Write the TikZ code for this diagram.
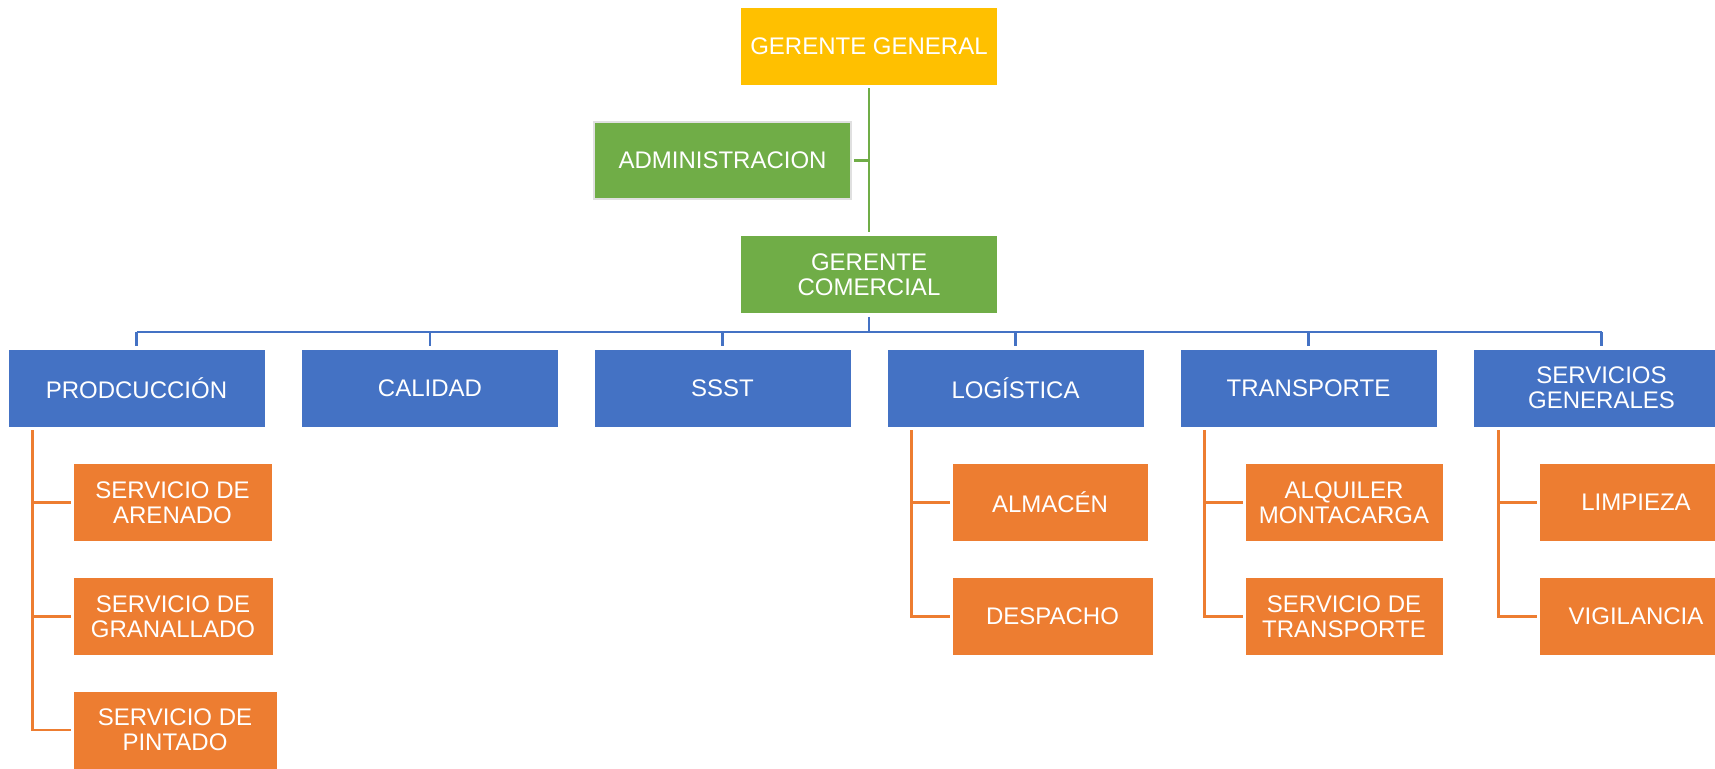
\documentclass[tikz,border=0pt]{standalone}
\usepackage{fontspec}
\setmainfont{Liberation Sans}
\definecolor{cyellow}{HTML}{FFC000}
\definecolor{cgreen}{HTML}{70AD47}
\definecolor{cblue}{HTML}{4472C4}
\definecolor{corange}{HTML}{ED7D31}
\begin{document}
\begin{tikzpicture}[x=1pt,y=-1pt,
  box/.style={rectangle, inner sep=0pt, text=white, align=center,
    font=\fontsize{24}{25}\selectfont, draw=white, line width=0.8pt},
  ybox/.style={box, fill=cyellow, minimum width=257pt, minimum height=78pt},
  gbox/.style={box, fill=cgreen, minimum width=257pt, minimum height=78pt},
  abox/.style={box, fill=cgreen, draw=black!12, line width=2.5pt, minimum width=257pt, minimum height=77pt},
  bbox/.style={box, fill=cblue, minimum width=257pt, minimum height=78pt},
  obox/.style={box, fill=corange, minimum height=78pt},
  gline/.style={draw=cgreen, line width=2.5pt},
  bline/.style={draw=cblue, line width=2.5pt},
  oline/.style={draw=corange, line width=2.5pt}]
\useasboundingbox (0,0) rectangle (1715,768);
\clip (0,0) rectangle (1715,768);

% top
\node[ybox] (gg) at (869,46) {GERENTE GENERAL};
\node[abox] (admin) at (722.5,160.5) {ADMINISTRACION};
\node[gbox] (gc) at (869,274.5) {GERENTE\\COMERCIAL};

% second level
\node[bbox] (prod) at (136.5,388) {PRODCUCCIÓN};
\node[bbox] (cal)  at (430,388) {CALIDAD};
\node[bbox] (ssst) at (722.5,388) {SSST};
\node[bbox] (log)  at (1015.5,388) {LOGÍSTICA};
\node[bbox] (tra)  at (1308.5,388) {TRANSPORTE};
\node[bbox] (serv) at (1601.5,388) {SERVICIOS\\GENERALES};

% third level
\node[obox, minimum width=199pt] (are) at (172.5,502.5) {SERVICIO DE\\ARENADO};
\node[obox, minimum width=200pt] (gra) at (173,616.5) {SERVICIO DE\\GRANALLADO};
\node[obox, minimum width=204pt] (pin) at (175,730) {SERVICIO DE\\PINTADO};
\node[obox, minimum width=196pt] (alm) at (1050,502.5) {ALMACÉN};
\node[obox, minimum width=201pt] (des) at (1052.5,616.5) {DESPACHO};
\node[obox, minimum width=198pt] (alq) at (1344,502.5) {ALQUILER\\MONTACARGA};
\node[obox, minimum width=198pt] (stra) at (1344,616.5) {SERVICIO DE\\TRANSPORTE};
\node[obox, minimum width=194pt] (lim) at (1636,502.5) {LIMPIEZA};
\node[obox, minimum width=194pt] (vig) at (1636,616.5) {VIGILANCIA};

% green connectors
\draw[gline] ([yshift=-3pt]gg.south) -- ([yshift=3pt]gc.north);
\draw[gline] ([xshift=2pt]admin.east) -- (admin.east -| gg.south);

% blue connectors
\coordinate (bus) at (869,332);
\draw[bline] ([yshift=-3pt]gc.south) -- (bus);
\draw[bline] (bus -| prod.north) -- (bus -| serv.north);
\foreach \n in {prod,cal,ssst,log,tra,serv}{
  \draw[bline] (bus -| \n.north) -- ([yshift=3pt]\n.north);
}

% orange connectors
\draw[oline] ([xshift=25pt,yshift=-3pt]prod.south west) |- ([xshift=-2pt]are.west);
\draw[oline] ([xshift=25pt,yshift=-3pt]prod.south west) |- ([xshift=-2pt]gra.west);
\draw[oline] ([xshift=25pt,yshift=-3pt]prod.south west) |- ([xshift=-2pt]pin.west);
\draw[oline] ([xshift=25pt,yshift=-3pt]log.south west) |- ([xshift=-2pt]alm.west);
\draw[oline] ([xshift=25pt,yshift=-3pt]log.south west) |- ([xshift=-2pt]des.west);
\draw[oline] ([xshift=25pt,yshift=-3pt]tra.south west) |- ([xshift=-2pt]alq.west);
\draw[oline] ([xshift=25pt,yshift=-3pt]tra.south west) |- ([xshift=-2pt]stra.west);
\draw[oline] ([xshift=26pt,yshift=-3pt]serv.south west) |- ([xshift=-2pt]lim.west);
\draw[oline] ([xshift=26pt,yshift=-3pt]serv.south west) |- ([xshift=-2pt]vig.west);
\end{tikzpicture}
\end{document}
